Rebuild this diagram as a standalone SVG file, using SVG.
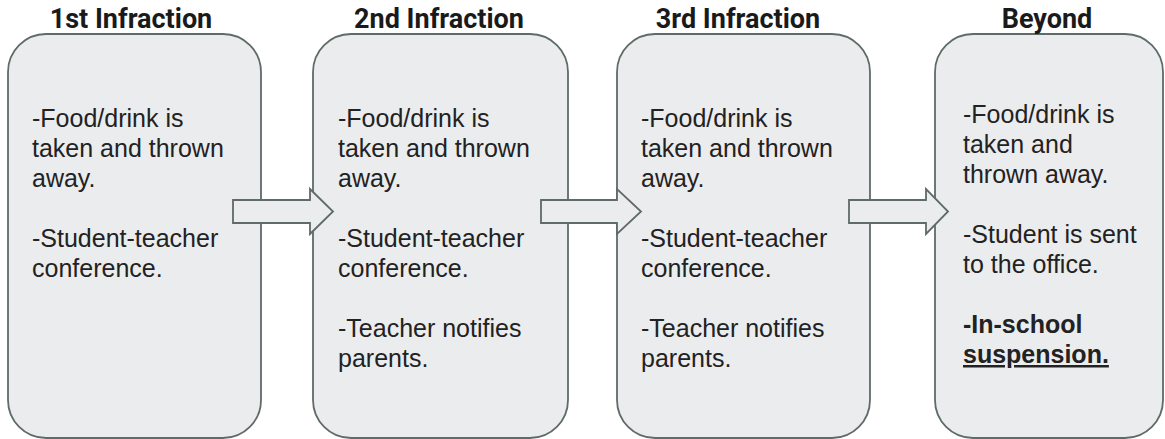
<svg xmlns="http://www.w3.org/2000/svg" width="1165" height="439" viewBox="0 0 1165 439">
<style>
.box{fill:#ebecee;stroke:#5f6b68;stroke-width:1.8}
.arr{fill:#ebecee;stroke:#5f6b68;stroke-width:1.8;stroke-linejoin:miter}
.hdr{font-family:Roboto,"Liberation Sans",sans-serif;font-weight:bold;font-size:27px;fill:#1a1a1a;text-anchor:middle}
.txt{font-family:"Liberation Sans",Arial,sans-serif;font-size:25px;fill:#222}
.b{font-weight:bold}
</style>
<rect width="1165" height="439" fill="#ffffff"/>
<g id="node1">
<rect class="box" x="8" y="34" width="253" height="404" rx="38" ry="38"/>
<text class="hdr" x="131" y="28">1st Infraction</text>
<text class="txt"><tspan x="32" y="127">-Food/drink is</tspan><tspan x="32" y="157">taken and thrown</tspan><tspan x="32" y="187">away.</tspan><tspan x="32" y="247">-Student-teacher</tspan><tspan x="32" y="277">conference.</tspan></text>
</g>
<g id="node2">
<rect class="box" x="313" y="34" width="255" height="404" rx="38" ry="38"/>
<text class="hdr" x="439" y="28">2nd Infraction</text>
<text class="txt"><tspan x="338" y="127">-Food/drink is</tspan><tspan x="338" y="157">taken and thrown</tspan><tspan x="338" y="187">away.</tspan><tspan x="338" y="247">-Student-teacher</tspan><tspan x="338" y="277">conference.</tspan><tspan x="338" y="337">-Teacher notifies</tspan><tspan x="338" y="367">parents.</tspan></text>
</g>
<g id="node3">
<rect class="box" x="617" y="34" width="253" height="404" rx="38" ry="38"/>
<text class="hdr" x="738" y="28">3rd Infraction</text>
<text class="txt"><tspan x="641" y="127">-Food/drink is</tspan><tspan x="641" y="157">taken and thrown</tspan><tspan x="641" y="187">away.</tspan><tspan x="641" y="247">-Student-teacher</tspan><tspan x="641" y="277">conference.</tspan><tspan x="641" y="337">-Teacher notifies</tspan><tspan x="641" y="367">parents.</tspan></text>
</g>
<g id="node4">
<rect class="box" x="935" y="34" width="228" height="404" rx="38" ry="38"/>
<text class="hdr" x="1047" y="28">Beyond</text>
<text class="txt"><tspan x="963" y="123">-Food/drink is</tspan><tspan x="963" y="153">taken and</tspan><tspan x="963" y="183">thrown away.</tspan><tspan x="963" y="243">-Student is sent</tspan><tspan x="963" y="273">to the office.</tspan><tspan x="963" y="333" class="b">-In-school</tspan><tspan x="963" y="363" class="b" text-decoration="underline">suspension.</tspan></text>
</g>
<g id="connectors">
<polygon class="arr" points="233,200 310,200 310,189 333,211.5 310,234 310,223 233,223"/>
<polygon class="arr" points="541,200 617,200 617,189 641,211.5 617,234 617,223 541,223"/>
<polygon class="arr" points="849,200 926,200 926,189 948,211.5 926,234 926,223 849,223"/>
</g>
</svg>
